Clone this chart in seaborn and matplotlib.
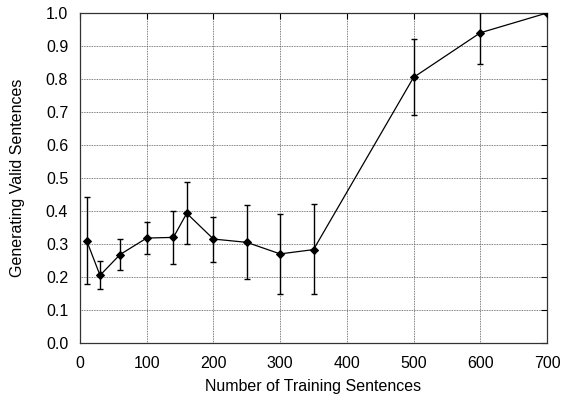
import matplotlib
matplotlib.use("Agg")
import matplotlib.pyplot as plt
import seaborn as sns
import pandas as pd
import numpy as np

sentences = [10, 30, 60, 100, 140, 160, 200, 250, 300, 350, 500, 600, 700]
valid = [0.31, 0.205, 0.268, 0.318, 0.32, 0.393, 0.315, 0.305, 0.27, 0.283, 0.805, 0.94, 1.0]
err_low = [0.18, 0.165, 0.22, 0.27, 0.24, 0.30, 0.245, 0.193, 0.15, 0.147, 0.69, 0.845, 1.0]
err_high = [0.443, 0.25, 0.316, 0.367, 0.40, 0.487, 0.383, 0.418, 0.392, 0.42, 0.92, 1.035, 1.0]

df = pd.DataFrame({"x": sentences, "y": valid, "lo": err_low, "hi": err_high})

sns.set_theme(style="white")
plt.rcParams["font.family"] = ["Liberation Sans", "DejaVu Sans"]

fig = plt.figure(figsize=(5.63, 3.98), dpi=100)
ax = fig.add_axes([80 / 563, (398 - 343) / 398, 467 / 563, 330 / 398])

yerr = np.array([df["y"] - df["lo"], df["hi"] - df["y"]])
ax.errorbar(df["x"], df["y"], yerr=yerr, fmt="none", ecolor="black",
            elinewidth=1.0, capsize=2, capthick=1.0, zorder=3)
sns.lineplot(data=df, x="x", y="y", ax=ax, color="black", linewidth=0.9,
             marker="D", markersize=4.5, markeredgecolor="black",
             markerfacecolor="black", zorder=4)

ax.set_xlim(0, 700)
ax.set_ylim(0, 1.0)
ax.set_xticks(np.arange(0, 701, 100))
ax.set_yticks(np.arange(0, 1.01, 0.1))
ax.set_yticklabels([f"{v:.1f}" for v in np.arange(0, 1.01, 0.1)])
ax.grid(True, linestyle=(0, (1, 1)), color="#555555", linewidth=0.6)
ax.tick_params(direction="in", length=4, width=0.8, top=True, right=True,
               labelsize=11.5, colors="black")
ax.tick_params(axis="x", pad=9.5)
ax.tick_params(axis="y", pad=8.5)
ax.set_xlabel("Number of Training Sentences", fontsize=11.5, color="black")
ax.set_ylabel("Generating Valid Sentences", fontsize=11.5, color="black")
ax.xaxis.set_label_coords((313 - 80) / 467, -(387 - 343) / 330)
ax.yaxis.set_label_coords((18 - 80) / 467, 0.5)
ax.xaxis.label.set_va("center")
ax.yaxis.label.set_va("center")
for s in ax.spines.values():
    s.set_color("#333333")
    s.set_linewidth(0.9)
    s.set_visible(True)

fig.savefig("out.png", dpi=100)
